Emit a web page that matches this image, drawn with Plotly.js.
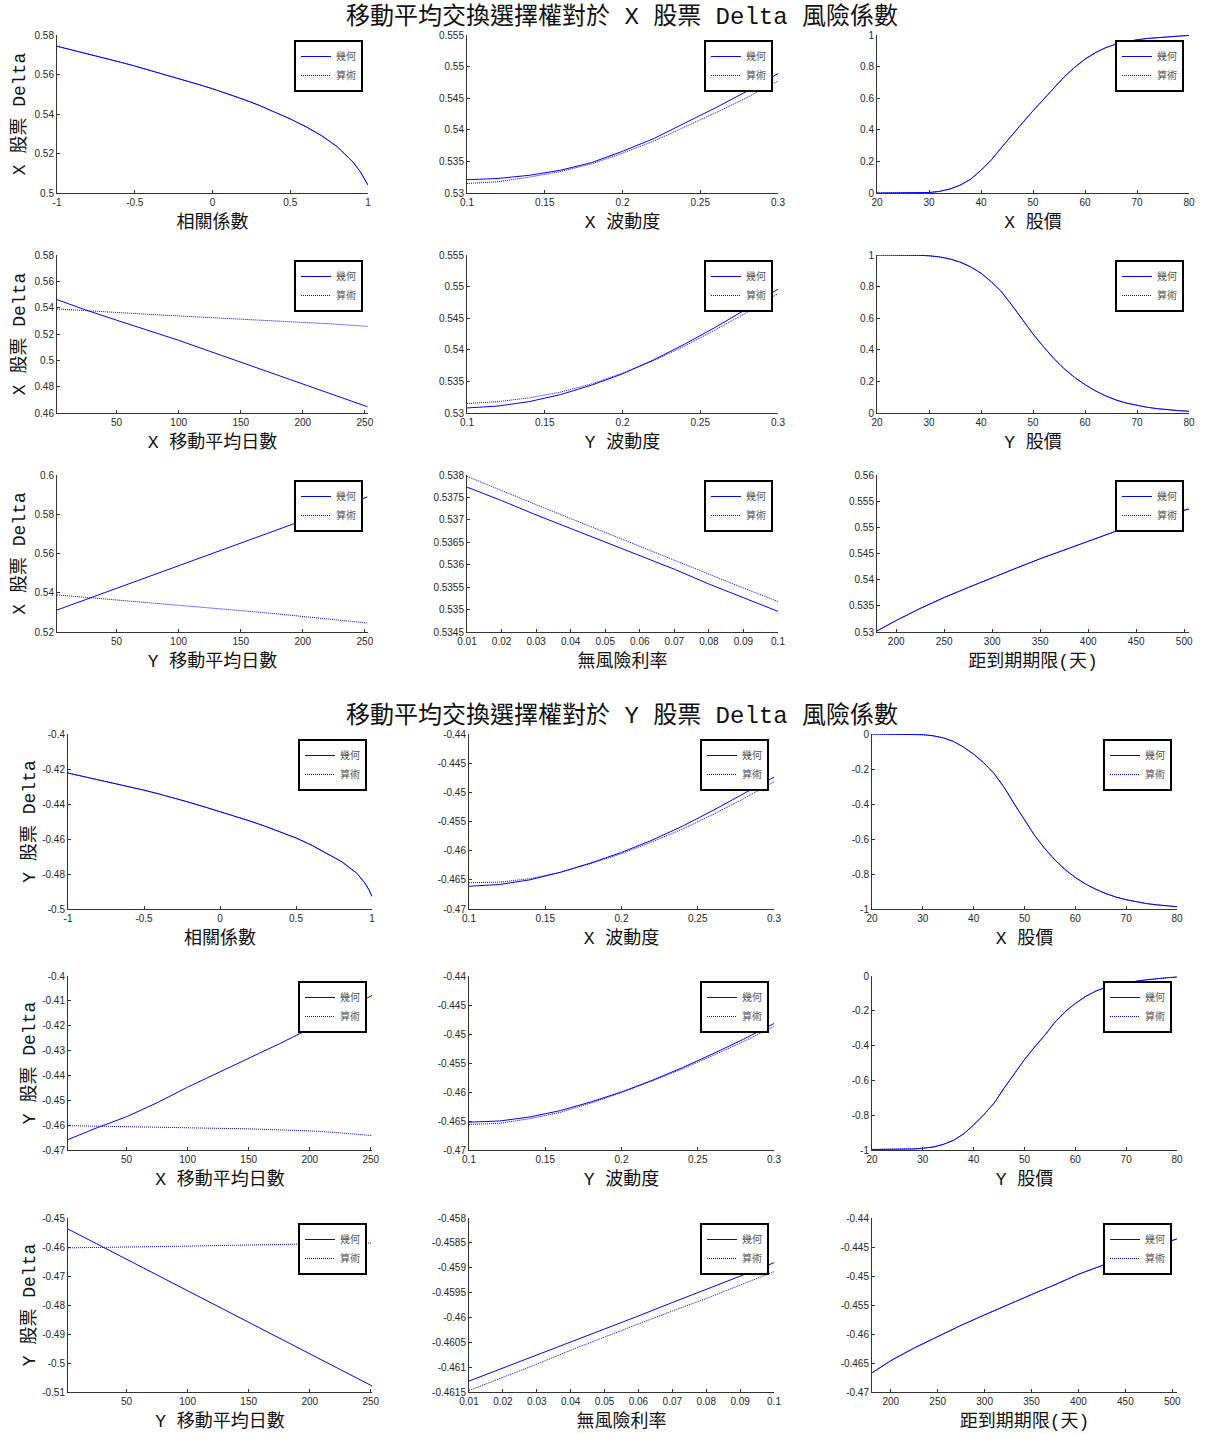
<!DOCTYPE html>
<html>
<head>
<meta charset="utf-8">
<script src="https://cdn.plot.ly/plotly-3.0.1.min.js"></script>
<style>
  html, body { margin: 0; padding: 0; background: #fff; }
  #chart { width: 1205px; height: 1434px; }
</style>
</head>
<body>
<div id="chart"></div>
<script>
// ---------- sweep grids ----------
const rhoGrid   = [-1, -0.9, -0.8, -0.7, -0.6, -0.5, -0.4, -0.3, -0.2, -0.1, 0, 0.1, 0.2, 0.3, 0.4, 0.5, 0.6, 0.7, 0.8, 0.9, 0.95, 0.98, 1];
const volGrid   = [0.10, 0.12, 0.14, 0.16, 0.18, 0.20, 0.22, 0.24, 0.26, 0.28, 0.30];
const priceGrid = [20, 22, 24, 26, 28, 30, 32, 34, 36, 38, 40, 42, 44, 46, 48, 50, 52, 54, 56, 58, 60, 62, 64, 66, 68, 70, 72, 74, 76, 78, 80];
const maGridX   = [2, 25, 50, 75, 100, 125, 150, 175, 200, 225, 252];
const maGridY   = [2, 25, 50, 75, 100, 125, 150, 175, 200, 225, 251];
const rateGrid  = [0.01, 0.02, 0.03, 0.04, 0.05, 0.06, 0.07, 0.08, 0.09, 0.10];
const termGrid  = [180, 200, 225, 250, 275, 300, 325, 350, 375, 400, 425, 450, 475, 505];

// ---------- X stock delta ----------
const xRhoGeo    = [0.5743, 0.5724, 0.5704, 0.5684, 0.5664, 0.5643, 0.5621, 0.5599, 0.5576, 0.5552, 0.5528, 0.5502, 0.5474, 0.5444, 0.5411, 0.5375, 0.5336, 0.5291, 0.5236, 0.5160, 0.5108, 0.5068, 0.5040];
const xRhoArith  = [0.5743, 0.5724, 0.5704, 0.5684, 0.5664, 0.5643, 0.5621, 0.5599, 0.5576, 0.5552, 0.5528, 0.5502, 0.5474, 0.5444, 0.5411, 0.5375, 0.5336, 0.5291, 0.5236, 0.5160, 0.5108, 0.5068, 0.5040];
const xVolXGeo   = [0.5321, 0.5323, 0.5328, 0.5336, 0.5348, 0.5366, 0.5386, 0.5410, 0.5435, 0.5461, 0.5489];
const xVolXArith = [0.5315, 0.5318, 0.5325, 0.5334, 0.5346, 0.5363, 0.5382, 0.5404, 0.5427, 0.5451, 0.5477];
const xPxGeo     = [0, 0, 0, 0, 0.001, 0.003, 0.010, 0.025, 0.050, 0.087, 0.144, 0.210, 0.290, 0.370, 0.445, 0.520, 0.593, 0.665, 0.735, 0.795, 0.847, 0.888, 0.920, 0.943, 0.958, 0.970, 0.978, 0.984, 0.989, 0.993, 0.997];
const xPxArith   = [0, 0, 0, 0, 0.001, 0.003, 0.010, 0.025, 0.050, 0.087, 0.144, 0.210, 0.290, 0.370, 0.445, 0.520, 0.593, 0.665, 0.735, 0.795, 0.847, 0.888, 0.920, 0.943, 0.958, 0.970, 0.978, 0.984, 0.989, 0.993, 0.997];
const xMaXGeo    = [0.5461, 0.5383, 0.5305, 0.5228, 0.5152, 0.5069, 0.4987, 0.4905, 0.4823, 0.4738, 0.4648];
const xMaXArith  = [0.5390, 0.5376, 0.5362, 0.5350, 0.5337, 0.5325, 0.5314, 0.5302, 0.5291, 0.5276, 0.5258];
const xVolYGeo   = [0.5308, 0.5311, 0.5318, 0.5329, 0.5344, 0.5362, 0.5384, 0.5409, 0.5436, 0.5465, 0.5496];
const xVolYArith = [0.5315, 0.5318, 0.5324, 0.5333, 0.5346, 0.5363, 0.5383, 0.5406, 0.5432, 0.5459, 0.5489];
const xPyGeo     = [1.000, 1.000, 1.000, 0.999, 0.998, 0.995, 0.988, 0.975, 0.955, 0.925, 0.885, 0.830, 0.765, 0.680, 0.590, 0.500, 0.420, 0.345, 0.280, 0.225, 0.180, 0.140, 0.108, 0.082, 0.062, 0.047, 0.036, 0.027, 0.020, 0.015, 0.011];
const xPyArith   = [1.000, 1.000, 1.000, 0.999, 0.998, 0.995, 0.988, 0.975, 0.955, 0.925, 0.885, 0.830, 0.765, 0.680, 0.590, 0.500, 0.420, 0.345, 0.280, 0.225, 0.180, 0.140, 0.108, 0.082, 0.062, 0.047, 0.036, 0.027, 0.020, 0.015, 0.011];
const xMaYGeo    = [0.5312, 0.5365, 0.5423, 0.5481, 0.5538, 0.5595, 0.5653, 0.5711, 0.5768, 0.5826, 0.5888];
const xMaYArith  = [0.5389, 0.5377, 0.5364, 0.5350, 0.5336, 0.5323, 0.5309, 0.5295, 0.5280, 0.5264, 0.5246];
const xRateGeo   = [0.53773, 0.53743, 0.53711, 0.53681, 0.53650, 0.53620, 0.53590, 0.53557, 0.53527, 0.53496];
const xRateArith = [0.53797, 0.53765, 0.53734, 0.53703, 0.53672, 0.53641, 0.53609, 0.53578, 0.53548, 0.53518];
const xTermGeo   = [0.5302, 0.5322, 0.5345, 0.5366, 0.5385, 0.5404, 0.5422, 0.5440, 0.5457, 0.5474, 0.5490, 0.5506, 0.5521, 0.5535];
const xTermArith = [0.5302, 0.5322, 0.5345, 0.5366, 0.5385, 0.5404, 0.5422, 0.5440, 0.5457, 0.5474, 0.5490, 0.5506, 0.5521, 0.5535];

// ---------- Y stock delta ----------
const yRhoGeo    = [-0.4223, -0.4242, -0.4261, -0.4281, -0.4301, -0.4321, -0.4343, -0.4366, -0.4391, -0.4417, -0.4443, -0.4470, -0.4498, -0.4528, -0.4560, -0.4594, -0.4634, -0.4680, -0.4729, -0.4796, -0.4848, -0.4890, -0.4929];
const yRhoArith  = [-0.4223, -0.4242, -0.4261, -0.4281, -0.4301, -0.4321, -0.4343, -0.4366, -0.4391, -0.4417, -0.4443, -0.4470, -0.4498, -0.4528, -0.4560, -0.4594, -0.4634, -0.4680, -0.4729, -0.4796, -0.4848, -0.4890, -0.4929];
const yVolXGeo   = [-0.4661, -0.4658, -0.4650, -0.4637, -0.4621, -0.4603, -0.4582, -0.4558, -0.4531, -0.4503, -0.4474];
const yVolXArith = [-0.4655, -0.4654, -0.4648, -0.4637, -0.4622, -0.4605, -0.4585, -0.4563, -0.4538, -0.4511, -0.4482];
const yPxGeo     = [0, 0, 0, -0.001, -0.002, -0.004, -0.010, -0.022, -0.042, -0.075, -0.115, -0.165, -0.225, -0.305, -0.400, -0.490, -0.580, -0.655, -0.720, -0.775, -0.820, -0.857, -0.887, -0.912, -0.932, -0.947, -0.959, -0.969, -0.976, -0.982, -0.987];
const yPxArith   = [0, 0, 0, -0.001, -0.002, -0.004, -0.010, -0.022, -0.042, -0.075, -0.115, -0.165, -0.225, -0.305, -0.400, -0.490, -0.580, -0.655, -0.720, -0.775, -0.820, -0.857, -0.887, -0.912, -0.932, -0.947, -0.959, -0.969, -0.976, -0.982, -0.987];
const yMaXGeo    = [-0.4658, -0.4612, -0.4566, -0.4510, -0.4447, -0.4390, -0.4333, -0.4273, -0.4212, -0.4148, -0.4078];
const yMaXArith  = [-0.4602, -0.4604, -0.4606, -0.4607, -0.4609, -0.4612, -0.4615, -0.4619, -0.4623, -0.4631, -0.4642];
const yVolYGeo   = [-0.4652, -0.4650, -0.4643, -0.4632, -0.4617, -0.4600, -0.4580, -0.4558, -0.4534, -0.4509, -0.4482];
const yVolYArith = [-0.4656, -0.4654, -0.4646, -0.4635, -0.4619, -0.4601, -0.4581, -0.4560, -0.4537, -0.4513, -0.4487];
const yPyGeo     = [-0.997, -0.997, -0.997, -0.996, -0.994, -0.990, -0.983, -0.968, -0.945, -0.908, -0.856, -0.797, -0.731, -0.644, -0.560, -0.480, -0.408, -0.340, -0.265, -0.205, -0.158, -0.118, -0.087, -0.065, -0.050, -0.038, -0.030, -0.022, -0.015, -0.010, -0.006];
const yPyArith   = [-0.997, -0.997, -0.997, -0.996, -0.994, -0.990, -0.983, -0.968, -0.945, -0.908, -0.856, -0.797, -0.731, -0.644, -0.560, -0.480, -0.408, -0.340, -0.265, -0.205, -0.158, -0.118, -0.087, -0.065, -0.050, -0.038, -0.030, -0.022, -0.015, -0.010, -0.006];
const yMaYGeo    = [-0.4538, -0.4588, -0.4642, -0.4696, -0.4751, -0.4805, -0.4860, -0.4914, -0.4969, -0.5023, -0.5079];
const yMaYArith  = [-0.4603, -0.4602, -0.4600, -0.4599, -0.4597, -0.4595, -0.4593, -0.4591, -0.4589, -0.4588, -0.4586];
const yRateGeo   = [-0.46128, -0.46102, -0.46076, -0.46050, -0.46024, -0.45997, -0.45970, -0.45944, -0.45917, -0.45890];
const yRateArith = [-0.46147, -0.46121, -0.46094, -0.46066, -0.46039, -0.46013, -0.45987, -0.45962, -0.45935, -0.45908];
const yTermGeo   = [-0.4667, -0.4646, -0.4624, -0.4604, -0.4585, -0.4567, -0.4549, -0.4532, -0.4515, -0.4497, -0.4482, -0.4466, -0.4452, -0.4436];
const yTermArith = [-0.4667, -0.4646, -0.4624, -0.4604, -0.4585, -0.4567, -0.4549, -0.4532, -0.4515, -0.4497, -0.4482, -0.4466, -0.4452, -0.4436];

// ---------- tick labels ----------
const rhoTicks   = ['-1', '-0.5', '0', '0.5', '1'];
const volTicks   = ['0.1', '0.15', '0.2', '0.25', '0.3'];
const priceTicks = ['20', '30', '40', '50', '60', '70', '80'];
const maTicks    = ['50', '100', '150', '200', '250'];
const rateTicks  = ['0.01', '0.02', '0.03', '0.04', '0.05', '0.06', '0.07', '0.08', '0.09', '0.1'];
const termTicks  = ['200', '250', '300', '350', '400', '450', '500'];

const xRhoYTicks  = ['0.5', '0.52', '0.54', '0.56', '0.58'];
const xVolYTicks  = ['0.53', '0.535', '0.54', '0.545', '0.55', '0.555'];
const unitYTicks  = ['0', '0.2', '0.4', '0.6', '0.8', '1'];
const xMaXYTicks  = ['0.46', '0.48', '0.5', '0.52', '0.54', '0.56', '0.58'];
const xMaYYTicks  = ['0.52', '0.54', '0.56', '0.58', '0.6'];
const xRateYTicks = ['0.5345', '0.535', '0.5355', '0.536', '0.5365', '0.537', '0.5375', '0.538'];
const xTermYTicks = ['0.53', '0.535', '0.54', '0.545', '0.55', '0.555', '0.56'];
const yRhoYTicks  = ['-0.5', '-0.48', '-0.46', '-0.44', '-0.42', '-0.4'];
const yVolYTicks  = ['-0.47', '-0.465', '-0.46', '-0.455', '-0.45', '-0.445', '-0.44'];
const negUnitYTicks = ['-1', '-0.8', '-0.6', '-0.4', '-0.2', '0'];
const yMaXYTicks  = ['-0.47', '-0.46', '-0.45', '-0.44', '-0.43', '-0.42', '-0.41', '-0.4'];
const yMaYYTicks  = ['-0.51', '-0.5', '-0.49', '-0.48', '-0.47', '-0.46', '-0.45'];
const yRateYTicks = ['-0.4615', '-0.461', '-0.4605', '-0.46', '-0.4595', '-0.459', '-0.4585', '-0.458'];
const yTermYTicks = ['-0.47', '-0.465', '-0.46', '-0.455', '-0.45', '-0.445', '-0.44'];

const seriesNames = ['幾何', '算術'];
const groupTitles = ['移動平均交換選擇權對於 X 股票 Delta 風險係數', '移動平均交換選擇權對於 Y 股票 Delta 風險係數'];
const yTitles = ['X 股票 Delta', 'Y 股票 Delta'];

// ---------- panels (row-major, 3 x 3 per group) ----------
const panels = [
  { x: rhoGrid,   a: xRhoGeo,   b: xRhoArith,  xt: rhoTicks,   yt: xRhoYTicks,  xr: [-1, 1],      xTitle: '相關係數' },
  { x: volGrid,   a: xVolXGeo,  b: xVolXArith, xt: volTicks,   yt: xVolYTicks,  xr: [0.1, 0.3],   xTitle: 'X 波動度' },
  { x: priceGrid, a: xPxGeo,    b: xPxArith,   xt: priceTicks, yt: unitYTicks,  xr: [20, 80],     xTitle: 'X 股價' },
  { x: maGridX,   a: xMaXGeo,   b: xMaXArith,  xt: maTicks,    yt: xMaXYTicks,  xr: [2, 252.5],   xTitle: 'X 移動平均日數' },
  { x: volGrid,   a: xVolYGeo,  b: xVolYArith, xt: volTicks,   yt: xVolYTicks,  xr: [0.1, 0.3],   xTitle: 'Y 波動度' },
  { x: priceGrid, a: xPyGeo,    b: xPyArith,   xt: priceTicks, yt: unitYTicks,  xr: [20, 80],     xTitle: 'Y 股價' },
  { x: maGridX,   a: xMaYGeo,   b: xMaYArith,  xt: maTicks,    yt: xMaYYTicks,  xr: [2, 252.5],   xTitle: 'Y 移動平均日數' },
  { x: rateGrid,  a: xRateGeo,  b: xRateArith, xt: rateTicks,  yt: xRateYTicks, xr: [0.01, 0.1],  xTitle: '無風險利率' },
  { x: termGrid,  a: xTermGeo,  b: xTermArith, xt: termTicks,  yt: xTermYTicks, xr: [180, 505],   xTitle: '距到期期限(天)' },

  { x: rhoGrid,   a: yRhoGeo,   b: yRhoArith,  xt: rhoTicks,   yt: yRhoYTicks,  xr: [-1, 1],      xTitle: '相關係數' },
  { x: volGrid,   a: yVolXGeo,  b: yVolXArith, xt: volTicks,   yt: yVolYTicks,  xr: [0.1, 0.3],   xTitle: 'X 波動度' },
  { x: priceGrid, a: yPxGeo,    b: yPxArith,   xt: priceTicks, yt: negUnitYTicks, xr: [20, 80],   xTitle: 'X 股價' },
  { x: maGridY,   a: yMaXGeo,   b: yMaXArith,  xt: maTicks,    yt: yMaXYTicks,  xr: [2, 251],     xTitle: 'X 移動平均日數' },
  { x: volGrid,   a: yVolYGeo,  b: yVolYArith, xt: volTicks,   yt: yVolYTicks,  xr: [0.1, 0.3],   xTitle: 'Y 波動度' },
  { x: priceGrid, a: yPyGeo,    b: yPyArith,   xt: priceTicks, yt: negUnitYTicks, xr: [20, 80],   xTitle: 'Y 股價' },
  { x: maGridY,   a: yMaYGeo,   b: yMaYArith,  xt: maTicks,    yt: yMaYYTicks,  xr: [2, 251],     xTitle: 'Y 移動平均日數' },
  { x: rateGrid,  a: yRateGeo,  b: yRateArith, xt: rateTicks,  yt: yRateYTicks, xr: [0.01, 0.1],  xTitle: '無風險利率' },
  { x: termGrid,  a: yTermGeo,  b: yTermArith, xt: termTicks,  yt: yTermYTicks, xr: [180, 505],   xTitle: '距到期期限(天)' }
];

// ---------- page geometry (pixels) ----------
const W = 1205, H = 1434;
const groupCols = [
  [[57, 368], [467, 778], [877, 1189]],
  [[68, 372], [469, 774], [872, 1177]]
];
const groupRows = [
  [[35, 193], [255, 413], [475, 632]],
  [[734, 909], [976, 1150], [1218, 1392]]
];
const titleCenters = [17, 716];
const yTitleStandoff = [4, 1];

const tickFont  = { family: 'Liberation Sans, Arial, sans-serif', size: 10, color: '#262626' };
const labelFont = { family: 'Liberation Mono, "Noto Sans CJK TC", serif', size: 18, color: '#111' };
const legendFont = { family: '"Noto Sans CJK TC", sans-serif', size: 10, color: '#555' };
const BLUE = '#0000ff';

const traces = [];
const layout = {
  width: W, height: H,
  margin: { l: 0, r: 0, t: 0, b: 0 },
  paper_bgcolor: '#fff', plot_bgcolor: '#fff',
  font: tickFont,
  annotations: []
};

panels.forEach((p, k) => {
  const g = k < 9 ? 0 : 1;
  const r = Math.floor((k % 9) / 3);
  const c = k % 3;
  const [c0, c1] = groupCols[g][c];
  const [r0, r1] = groupRows[g][r];
  const n = k + 1;
  const xa = n === 1 ? 'x' : 'x' + n;
  const ya = n === 1 ? 'y' : 'y' + n;
  const lg = n === 1 ? 'legend' : 'legend' + n;

  traces.push({
    type: 'scatter', mode: 'lines', x: p.x, y: p.a, xaxis: xa, yaxis: ya,
    name: seriesNames[0], legend: lg,
    line: { color: BLUE, width: 1 }
  });
  traces.push({
    type: 'scatter', mode: 'lines', x: p.x, y: p.b, xaxis: xa, yaxis: ya,
    name: seriesNames[1], legend: lg,
    line: { color: BLUE, width: 1, dash: '1px,1px' }
  });

  const common = {
    showline: true, linecolor: '#333', linewidth: 1, mirror: false,
    showgrid: false, zeroline: false,
    ticks: 'inside', ticklen: 3, tickcolor: '#333', tickwidth: 1,
    tickfont: tickFont, tickmode: 'array', fixedrange: true
  };

  layout[n === 1 ? 'xaxis' : 'xaxis' + n] = Object.assign({}, common, {
    domain: [c0 / W, c1 / W], anchor: ya, range: p.xr,
    tickvals: p.xt.map(Number), ticktext: p.xt,
    title: { text: p.xTitle, font: labelFont, standoff: 8 }
  });
  const yVals = p.yt.map(Number);
  layout[n === 1 ? 'yaxis' : 'yaxis' + n] = Object.assign({}, common, {
    domain: [1 - r1 / H, 1 - r0 / H], anchor: xa,
    range: [yVals[0], yVals[yVals.length - 1]],
    tickvals: yVals, ticktext: p.yt,
    title: c === 0 ? { text: yTitles[g], font: labelFont, standoff: yTitleStandoff[g] } : { text: '' }
  });

  layout[lg] = {
    x: (c1 - 5) / W, xanchor: 'right', xref: 'paper',
    y: 1 - (r0 + 5) / H, yanchor: 'top', yref: 'paper',
    bgcolor: '#fff', bordercolor: '#000', borderwidth: 2,
    font: legendFont, tracegroupgap: 0, itemwidth: 30
  };
});

groupTitles.forEach((t, g) => {
  layout.annotations.push({
    text: t, xref: 'paper', yref: 'paper',
    x: 622 / W, y: 1 - titleCenters[g] / H, xanchor: 'center', yanchor: 'middle',
    showarrow: false,
    font: { family: 'Liberation Mono, "Noto Sans CJK TC", serif', size: 24, color: '#111' }
  });
});

Plotly.newPlot('chart', traces, layout, { staticPlot: true, displayModeBar: false });
</script>
</body>
</html>
